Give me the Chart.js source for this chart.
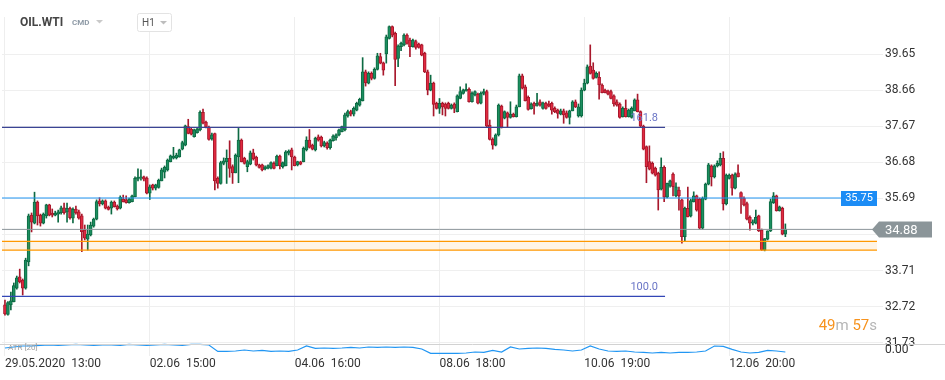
<!DOCTYPE html>
<html>
<head>
<meta charset="utf-8">
<script src="https://cdn.jsdelivr.net/npm/chart.js@4.4.1/dist/chart.umd.min.js"></script>
<style>
  html, body { margin: 0; padding: 0; background: #fff; }
  #wrap { position: relative; width: 945px; height: 380px; }
</style>
</head>
<body>
<div id="wrap"><canvas id="chart" width="945" height="380"></canvas></div>
<script>
// OIL.WTI, H1 candles from 29.05.2020 13:00
const opens = [
  32.77,32.51,32.77,32.86,33.23,33.54,33.45,33.23,33.95,35.23,35.01,35.59,35.23,35.01,35.21,35.51,35.29,35.23,35.26,35.30,
  35.43,35.32,35.42,35.15,35.40,35.32,35.21,34.82,34.57,34.69,34.93,35.12,35.62,35.54,35.62,35.45,35.42,35.59,35.48,35.42,
  35.67,35.65,35.57,35.60,35.74,36.22,36.25,36.28,36.25,35.83,36.06,35.97,35.99,36.17,36.41,36.47,36.70,36.79,36.80,36.83,
  37.04,37.15,37.66,37.59,37.38,37.49,37.57,38.05,37.78,37.64,37.32,37.47,36.24,36.10,36.65,36.70,36.79,36.56,36.39,36.83,
  37.29,36.79,36.56,36.63,36.94,36.82,36.61,36.61,36.50,36.52,36.52,36.65,36.59,36.85,36.56,36.59,36.93,37.02,36.82,36.61,
  36.69,36.70,37.02,37.29,37.15,37.02,37.38,37.37,37.13,37.20,37.08,37.27,37.35,37.43,37.52,37.57,37.95,38.07,38.00,38.11,
  38.25,38.37,39.16,38.85,39.12,38.98,39.23,39.58,39.41,39.65,40.08,40.40,40.22,39.53,39.85,39.90,40.17,40.03,39.85,39.99,
  39.92,39.90,39.67,39.16,38.66,38.85,38.30,38.16,38.30,38.28,38.30,38.16,38.28,38.07,38.43,38.57,38.64,38.68,38.34,38.53,
  38.55,38.30,38.57,38.62,37.70,37.31,37.15,37.43,38.22,37.89,38.04,37.91,38.00,37.93,38.20,39.05,38.75,38.46,38.15,38.30,
  38.24,38.34,38.16,38.30,38.28,38.30,38.16,38.11,38.00,38.09,38.04,37.91,38.09,38.34,37.95,37.95,38.66,38.85,39.32,39.21,
  39.01,39.01,38.80,38.66,38.64,38.62,38.50,38.34,38.28,37.93,38.16,37.93,37.91,38.09,38.39,38.07,37.67,37.11,36.70,36.65,
  36.52,36.38,35.94,36.54,35.72,36.03,36.36,35.76,35.92,35.65,34.64,35.42,35.21,35.60,35.76,35.67,34.87,35.67,36.08,36.58,
  36.28,36.58,36.61,36.79,35.54,36.24,36.33,35.97,36.39,35.85,35.69,35.55,35.17,35.01,35.01,35.21,34.82,34.27,34.57,34.80,
  35.57,35.76,35.35,35.42,34.71
];
const highs = [
  32.90,32.86,33.12,33.37,33.56,33.75,33.48,34.05,35.26,35.29,35.86,35.62,35.26,35.29,35.53,35.53,35.40,35.34,35.37,35.48,
  35.56,35.56,35.45,35.43,35.48,35.37,35.26,34.96,34.96,35.04,35.15,35.65,35.71,35.65,35.65,35.48,35.62,35.62,35.51,35.76,
  35.78,35.76,35.70,35.78,36.28,36.50,36.47,36.30,36.28,36.06,36.08,36.08,36.22,36.52,36.58,36.77,36.88,37.09,36.93,37.04,
  37.26,37.70,37.86,37.62,37.59,37.62,38.09,38.14,37.81,37.67,37.48,37.48,36.28,36.71,36.80,37.02,37.27,36.61,36.91,37.61,
  37.32,36.82,36.74,36.99,37.04,36.85,36.63,36.63,36.58,36.61,36.69,36.69,36.88,36.88,36.69,37.00,37.02,37.07,36.85,36.71,
  36.71,37.10,37.38,37.58,37.18,37.37,37.43,37.40,37.26,37.24,37.32,37.43,37.46,37.59,37.67,38.03,38.11,38.11,38.20,38.33,
  38.44,39.55,39.21,39.16,39.16,39.27,39.67,39.67,39.43,40.17,40.42,40.42,40.25,39.90,39.98,40.20,40.20,40.09,40.06,40.03,
  39.95,39.92,39.70,39.21,39.07,38.88,38.33,38.43,38.33,38.31,38.33,38.28,38.31,38.53,38.75,38.69,38.83,38.72,38.61,38.64,
  38.58,38.61,38.69,38.66,37.84,37.35,37.46,38.28,38.25,38.09,38.06,38.34,38.03,38.25,39.10,39.10,38.80,38.50,38.31,38.33,
  38.57,38.39,38.33,38.33,38.36,38.33,38.20,38.14,38.14,38.14,38.09,38.11,38.37,38.39,38.28,38.72,38.96,39.35,39.90,39.41,
  39.16,39.16,38.83,38.69,38.66,38.66,38.53,38.39,38.31,38.20,38.39,38.14,38.20,38.42,38.55,38.09,37.70,37.13,37.13,36.69,
  36.55,36.41,36.80,36.58,36.11,36.19,36.39,36.12,36.00,35.67,35.45,36.00,35.67,35.87,35.78,35.70,35.73,36.11,36.65,36.61,
  36.61,36.72,36.93,36.97,36.36,36.36,36.36,36.39,36.61,35.87,35.73,35.59,35.21,35.10,35.37,35.23,34.85,34.59,34.80,35.67,
  35.85,35.78,35.48,35.45,34.99
];
const lows = [
  32.49,32.49,32.63,32.85,33.20,33.37,33.04,33.20,33.84,34.77,34.99,34.96,34.93,34.99,35.15,35.21,35.18,35.21,35.04,35.26,
  35.26,35.04,35.12,35.02,35.26,35.12,34.23,34.55,34.27,34.66,34.90,35.10,35.48,35.51,35.40,35.37,35.26,35.45,35.37,35.40,
  35.59,35.56,35.56,35.59,35.73,36.17,36.19,36.17,35.81,35.66,35.92,35.92,35.97,36.17,36.25,36.44,36.69,36.77,36.77,36.82,
  37.02,37.13,37.46,37.43,37.37,37.48,37.54,37.73,37.62,37.29,37.29,35.92,35.97,36.08,36.61,36.10,36.27,36.10,36.39,36.12,
  36.69,36.63,36.42,36.61,36.74,36.58,36.52,36.44,36.47,36.50,36.50,36.50,36.58,36.50,36.52,36.58,36.88,36.47,36.58,36.58,
  36.61,36.69,36.99,37.07,37.02,36.99,37.26,37.10,37.10,37.04,37.04,37.26,37.29,37.40,37.51,37.54,37.92,37.95,37.95,38.09,
  38.22,38.36,38.77,38.83,38.94,38.96,39.21,39.38,39.07,39.40,40.06,40.12,38.78,39.30,39.74,39.87,39.92,39.58,39.84,39.78,
  39.81,39.60,39.14,38.53,38.64,37.95,38.14,38.02,37.98,37.95,38.14,38.14,38.04,38.06,38.42,38.55,38.63,38.33,38.33,38.50,
  38.28,38.28,38.53,37.65,37.29,37.04,37.13,37.40,37.62,37.87,37.64,37.89,37.92,37.92,38.20,38.69,38.36,38.11,38.14,38.00,
  38.22,38.22,38.14,38.14,38.20,38.00,38.04,37.89,37.98,37.75,37.89,37.73,38.09,38.18,37.92,37.92,38.64,38.83,39.10,38.96,
  38.99,38.41,38.58,38.58,38.53,38.42,38.22,38.22,37.89,37.92,37.92,37.92,37.89,38.09,38.06,37.65,37.02,36.12,36.47,36.36,
  36.30,35.37,35.92,35.60,35.70,36.00,35.76,35.73,35.37,34.46,34.53,35.18,35.18,35.59,35.34,34.85,34.85,35.65,36.06,36.03,
  36.25,36.55,36.58,35.37,35.51,36.22,35.78,35.95,36.28,35.28,35.48,35.10,34.82,34.96,34.99,34.78,34.26,34.25,34.55,34.78,
  35.55,35.34,35.34,34.69,34.64
];
const closes = [
  32.52,32.83,32.88,33.30,33.51,33.40,33.23,34.00,35.21,35.04,35.59,35.21,35.01,35.26,35.51,35.23,35.23,35.29,35.32,35.43,
  35.30,35.42,35.16,35.39,35.30,35.15,34.78,34.60,34.71,34.96,35.12,35.60,35.54,35.62,35.42,35.39,35.59,35.46,35.40,35.72,
  35.60,35.57,35.67,35.76,36.24,36.27,36.28,36.22,35.83,36.01,35.97,36.06,36.19,36.47,36.54,36.74,36.86,36.85,36.88,37.02,
  37.22,37.68,37.47,37.45,37.57,37.59,38.05,37.75,37.64,37.31,37.43,36.17,36.10,36.67,36.72,36.79,36.51,36.39,36.88,37.29,
  36.70,36.65,36.70,36.94,36.77,36.61,36.54,36.47,36.55,36.59,36.67,36.51,36.85,36.59,36.67,36.97,36.99,36.83,36.59,36.70,
  36.63,37.06,37.29,37.09,37.04,37.34,37.29,37.13,37.22,37.08,37.29,37.40,37.43,37.57,37.66,37.98,38.07,38.00,38.16,38.30,
  38.41,39.16,38.86,39.12,38.98,39.23,39.60,39.40,39.21,40.12,40.40,40.17,39.50,39.87,39.94,40.17,39.94,39.85,40.03,39.83,
  39.83,39.62,39.16,38.66,38.85,38.27,38.16,38.30,38.20,38.16,38.16,38.25,38.16,38.50,38.62,38.66,38.68,38.34,38.57,38.62,
  38.30,38.57,38.62,37.67,37.31,37.15,37.43,38.25,37.64,38.07,37.91,38.00,37.93,38.20,39.05,38.71,38.37,38.13,38.28,38.22,
  38.30,38.25,38.31,38.16,38.22,38.11,38.07,38.02,38.09,37.98,37.91,38.09,38.34,38.20,38.20,38.66,38.85,39.30,39.12,38.98,
  39.12,38.80,38.59,38.59,38.55,38.43,38.28,38.25,37.91,38.16,37.93,38.11,38.16,38.39,38.07,37.67,37.04,36.56,36.49,36.38,
  36.33,35.92,36.54,35.72,36.10,36.17,36.01,36.01,35.76,34.64,35.42,35.19,35.63,35.76,35.37,34.87,35.69,36.08,36.61,36.28,
  36.58,36.65,36.79,35.54,36.33,36.33,35.97,36.36,36.28,35.69,35.51,35.12,35.01,35.05,35.17,34.80,34.28,34.59,34.80,35.60,
  35.76,35.35,35.46,34.71,34.85
];
// indicator pane, one reading every 3 candles
const atrEvery = 3;
const atr = [
  0.40,0.45,0.50,0.50,0.53,0.55,0.53,0.55,0.58,0.55,0.53,0.55,0.55,0.53,0.58,0.55,0.53,0.55,0.58,0.55,
  0.53,0.58,0.58,0.55,0.23,0.23,0.25,0.30,0.25,0.28,0.23,0.25,0.23,0.30,0.50,0.38,0.40,0.38,0.40,0.43,
  0.40,0.45,0.43,0.45,0.43,0.45,0.43,0.35,0.13,0.13,0.13,0.13,0.15,0.20,0.18,0.28,0.20,0.45,0.35,0.38,
  0.40,0.38,0.33,0.30,0.25,0.30,0.50,0.35,0.25,0.23,0.25,0.20,0.18,0.15,0.18,0.15,0.18,0.18,0.20,0.25,
  0.50,0.48,0.33,0.20,0.15,0.18,0.28,0.25,0.20
];
const timeTicks = [0, 49, 98, 147, 196, 245];
const timeLabels = ['29.05.2020  13:00', '02.06  15:00', '04.06  16:00', '08.06  18:00', '10.06  19:00', '12.06  20:00'];
const priceTicks = [39.65, 38.66, 37.67, 36.68, 35.69, 34.70, 33.71, 32.72, 31.73];
const fibPrices = [37.64, 33.00];
const fibNames = ['161.8', '100.0'];
const fibEnd = 223.3;
const alertPrice = 35.70, alertText = '35.75';
const lastPrice = 34.84, lastText = '34.88';
const zoneTop = 34.51, zoneBottom = 34.27;

const X_MIN = -1, X_MAX = 295;
const Y_MIN = 31.367, Y_MAX = 40.665;
const PANE_TOP = 0.6;

const GREEN = '#1c8f60', GREEN_DARK = '#0d6a43';
const RED = '#e02a40', RED_DARK = '#a8182c';

Chart.defaults.font.family = 'Roboto, sans-serif';

const isUp = i => closes[i] >= opens[i];
const wicks = opens.map((o, i) => ({x: i, y: [Math.min(lows[i], o, closes[i]), Math.max(highs[i], o, closes[i])]}));
const bodies = opens.map((o, i) => ({x: i, y: [o, closes[i]]}));
const flat = (price, x0, x1) => [{x: x0, y: price}, {x: x1, y: price}];

const overlay = {
  id: 'overlay',
  afterDraw(chart) {
    const {ctx, chartArea, scales} = chart;
    const y = scales.y, x = scales.x;
    ctx.save();

    // pane separator
    const sep = Math.round(scales.y2.getPixelForValue(PANE_TOP)) + 0.5;
    ctx.strokeStyle = '#d2d2d2';
    ctx.lineWidth = 1;
    ctx.beginPath(); ctx.moveTo(0, sep); ctx.lineTo(945, sep); ctx.stroke();

    // header
    ctx.textBaseline = 'middle';
    ctx.fillStyle = '#454545';
    ctx.font = 'bold 12px Roboto';
    ctx.fillText('OIL.WTI', 20, 23);
    ctx.fillStyle = '#8e9aa6';
    ctx.font = 'bold 8px Roboto';
    ctx.fillText('CMD', 72, 23);
    ctx.fillStyle = '#c9c9c9';
    ctx.beginPath(); ctx.moveTo(96, 20); ctx.lineTo(103, 20); ctx.lineTo(99.5, 23.5); ctx.fill();
    ctx.fillStyle = '#fff';
    ctx.strokeStyle = '#e3e3e3';
    ctx.beginPath(); ctx.roundRect(137.5, 13.5, 34, 18, 2); ctx.fill(); ctx.stroke();
    ctx.fillStyle = '#555';
    ctx.font = '10px Roboto';
    ctx.fillText('H1', 142, 23);
    ctx.fillStyle = '#bdbdbd';
    ctx.beginPath(); ctx.moveTo(160, 21); ctx.lineTo(167, 21); ctx.lineTo(163.5, 24.5); ctx.fill();

    // fibonacci labels
    ctx.fillStyle = '#6a75c6';
    ctx.font = '11px Roboto';
    ctx.textAlign = 'right';
    fibPrices.forEach((p, k) => {
      ctx.fillText(fibNames[k], x.getPixelForValue(fibEnd) - 7, y.getPixelForValue(p) - 9);
    });

    // alert box
    const ay = y.getPixelForValue(alertPrice);
    ctx.fillStyle = '#1c8cf5';
    ctx.fillRect(chartArea.right - 36, Math.round(ay) - 7, 36, 15);
    ctx.fillStyle = '#fff';
    ctx.font = '11px Roboto';
    ctx.textAlign = 'center';
    ctx.fillText(alertText, chartArea.right - 18, Math.round(ay) + 0.5);

    // last price arrow
    const ly = y.getPixelForValue(lastPrice);
    ctx.fillStyle = '#8b9599';
    ctx.beginPath();
    ctx.moveTo(chartArea.right - 5, ly);
    ctx.lineTo(chartArea.right + 2, ly - 8);
    ctx.lineTo(932, ly - 8);
    ctx.lineTo(932, ly + 8);
    ctx.lineTo(chartArea.right + 2, ly + 8);
    ctx.closePath(); ctx.fill();
    ctx.fillStyle = '#fff';
    ctx.font = '13px Roboto';
    ctx.textAlign = 'left';
    ctx.fillText(lastText, 885, ly + 1);

    // bar countdown
    ctx.font = '15px Roboto';
    ctx.textBaseline = 'alphabetic';
    const parts = [['49', '#f7931e'], ['m ', '#b5b5b5'], ['57', '#f7931e'], ['s', '#b5b5b5']];
    let w = parts.reduce((s, p) => s + ctx.measureText(p[0]).width, 0);
    let cx = chartArea.right - w;
    parts.forEach(p => { ctx.fillStyle = p[1]; ctx.fillText(p[0], cx, 330); cx += ctx.measureText(p[0]).width; });

    // indicator pane axis label and legend
    ctx.textBaseline = 'middle';
    ctx.fillStyle = '#333';
    ctx.font = '12px Roboto';
    ctx.fillText('0.00', 885, 350);
    ctx.fillStyle = '#a0a0a0';
    ctx.font = '8px Roboto';
    ctx.fillText('ATR [20]', 8, 348);

    ctx.restore();
  }
};

new Chart(document.getElementById('chart'), {
  type: 'bar',
  data: {
    datasets: [
      {type: 'line', data: flat(zoneBottom, X_MIN, X_MAX), borderColor: '#ff9800', borderWidth: 1.2, pointRadius: 0, order: 0},
      {type: 'line', data: flat(zoneTop, X_MIN, X_MAX), borderColor: '#ff9800', borderWidth: 1.2, pointRadius: 0, order: 0,
       fill: '-1', backgroundColor: 'rgba(255,152,0,0.1)'},
      {type: 'line', data: flat(lastPrice, X_MIN, X_MAX), borderColor: '#8b9599', borderWidth: 1, pointRadius: 0, order: 0},
      {type: 'line', data: flat(alertPrice, X_MIN, X_MAX), borderColor: '#2196f3', borderWidth: 1.2, pointRadius: 0, order: 0},
      {type: 'line', data: flat(fibPrices[0], X_MIN, fibEnd), borderColor: '#3b4494', borderWidth: 1.2, pointRadius: 0, order: 0},
      {type: 'line', data: flat(fibPrices[1], X_MIN, fibEnd), borderColor: '#3346b6', borderWidth: 1.2, pointRadius: 0, order: 0},
      {type: 'line', yAxisID: 'y2', data: atr.map((v, k) => ({x: k * atrEvery, y: v})), borderColor: '#2196f3',
       borderWidth: 1.2, pointRadius: 0, order: 0},
      {data: wicks, grouped: false, barThickness: 1, order: 3,
       backgroundColor: ctx => isUp(ctx.dataIndex) ? GREEN_DARK : RED_DARK},
      {data: bodies, grouped: false, barThickness: 3, order: 2, borderWidth: 1, borderSkipped: false,
       backgroundColor: ctx => isUp(ctx.dataIndex) ? GREEN : RED,
       borderColor: ctx => isUp(ctx.dataIndex) ? GREEN_DARK : RED_DARK}
    ]
  },
  options: {
    responsive: false,
    animation: false,
    devicePixelRatio: 1,
    layout: {padding: {top: 17, left: 2, right: 0, bottom: 0}},
    plugins: {legend: {display: false}, tooltip: {enabled: false}},
    scales: {
      x: {
        type: 'linear', min: X_MIN, max: X_MAX,
        afterBuildTicks: s => { s.ticks = timeTicks.map(v => ({value: v})); },
        afterFit: s => { s.height = 24; s.paddingLeft = 0; s.paddingRight = 0; },
        grid: {color: '#eeeeee', drawTicks: false, offset: false},
        offset: false,
        border: {display: false},
        ticks: {align: 'start', autoSkip: false, maxRotation: 0, padding: 1, color: '#333',
                font: {size: 12}, callback: v => timeLabels[timeTicks.indexOf(v)]}
      },
      y: {
        position: 'right', min: Y_MIN, max: Y_MAX,
        afterBuildTicks: s => { s.ticks = priceTicks.map(v => ({value: v})); },
        afterFit: s => { s.width = 68; },
        grid: {color: '#efefef', tickLength: 6},
        border: {display: false},
        ticks: {autoSkip: false, padding: 2, color: '#333', font: {size: 12}, callback: v => v.toFixed(2)}
      },
      y2: {display: false, min: 0, max: 16.95}
    }
  },
  plugins: [overlay]
});
</script>
</body>
</html>
